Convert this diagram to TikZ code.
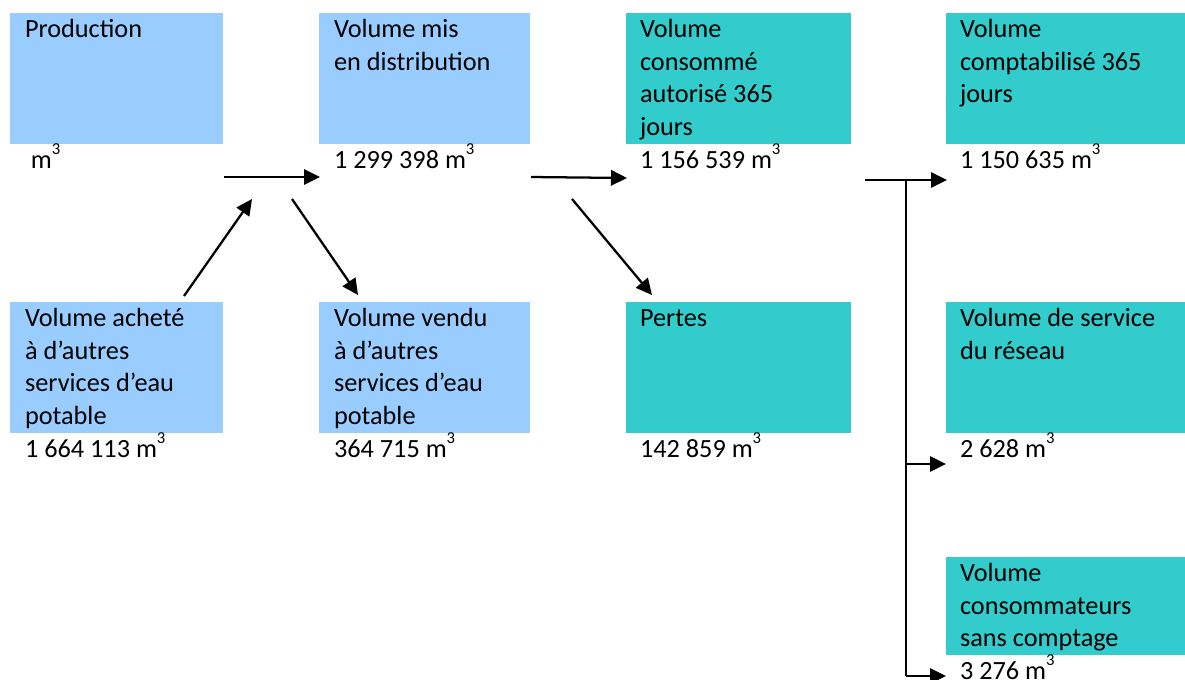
\documentclass[tikz,border=0pt]{standalone}
\usepackage{fontspec}
\setmainfont{Carlito}
\usetikzlibrary{arrows.meta,calc}
\definecolor{lblue}{HTML}{99CCFF}
\definecolor{tealbox}{HTML}{33CCCC}
\newcommand{\cube}{\raisebox{0.55em}{\fontsize{12.5pt}{14pt}\selectfont 3}}
\begin{document}
\begin{tikzpicture}[x=0.75pt,y=-0.75pt,
  font=\fontsize{19.7pt}{24.4pt}\selectfont,
  boxnode/.style={draw=none,inner sep=0pt,outer sep=0pt,anchor=north west},
  blue/.style={boxnode,fill=lblue},
  tealb/.style={boxnode,fill=tealbox},
  boxtext/.style={inner sep=0pt,outer sep=0pt,anchor=north west,align=left},
  value/.style={inner sep=0pt,outer sep=0pt,anchor=base west},
  flow/.style={line width=1.7pt,-{Triangle[length=12pt,width=11.5pt]}},
  trunk/.style={line width=1.3pt}]
\useasboundingbox (0,0) rectangle (1185,679);

% boxes
\node[blue, minimum width=159.75pt, minimum height=98.25pt] (prod) at (10,13) {};
\node[blue, minimum width=158.25pt, minimum height=98.25pt] (dist) at (319,13) {};
\node[tealb, minimum width=168.75pt, minimum height=98.25pt] (conso) at (626,13) {};
\node[tealb, minimum width=180pt, minimum height=98.25pt] (compta) at (946,13) {};
\node[blue, minimum width=159.75pt, minimum height=98.25pt] (achete) at (10,302) {};
\node[blue, minimum width=158.25pt, minimum height=98.25pt] (vendu) at (319,302) {};
\node[tealb, minimum width=168.75pt, minimum height=98.25pt] (pertes) at (626,302) {};
\node[tealb, minimum width=180pt, minimum height=98.25pt] (service) at (946,302) {};
\node[tealb, minimum width=180pt, minimum height=73.5pt] (sanscpt) at (946,557) {};

% texts in boxes
\node[boxtext] (tprod) at ($(prod.north west)+(15,2)$) {\strut Production};
\node[boxtext] (tdist) at ($(dist.north west)+(15,2)$) {\strut Volume mis\\en distribution};
\node[boxtext] (tconso) at ($(conso.north west)+(14,2)$) {\strut Volume\\consommé\\autorisé 365\\jours};
\node[boxtext] (tcompta) at ($(compta.north west)+(14,2)$) {\strut Volume\\comptabilisé 365\\jours};
\node[boxtext] (tachete) at ($(achete.north west)+(15,2)$) {\strut Volume acheté\\à d’autres\\services d’eau\\potable};
\node[boxtext] (tvendu) at ($(vendu.north west)+(15,2)$) {\strut Volume vendu\\à d’autres\\services d’eau\\potable};
\node[boxtext] (tpertes) at ($(pertes.north west)+(14,2)$) {\strut Pertes};
\node[boxtext] (tservice) at ($(service.north west)+(14,2)$) {\strut Volume de service\\du réseau};
\node[boxtext] (tsanscpt) at ($(sanscpt.north west)+(14,2)$) {\strut Volume\\consommateurs\\sans comptage};

% values
\node[value] (vprod) at ($(prod.south west)+(15,24.5)$) {\ m\cube};
\node[value] (vdist) at ($(dist.south west)+(15,24.5)$) {1 299 398 m\cube};
\node[value] (vconso) at ($(conso.south west)+(14,24.5)$) {1 156 539 m\cube};
\node[value] (vcompta) at ($(compta.south west)+(14,24.5)$) {1 150 635 m\cube};
\node[value] (vachete) at ($(achete.south west)+(15,24.5)$) {1 664 113 m\cube};
\node[value] (vvendu) at ($(vendu.south west)+(15,24.5)$) {364 715 m\cube};
\node[value] (vpertes) at ($(pertes.south west)+(14,24.5)$) {142 859 m\cube};
\node[value] (vservice) at ($(service.south west)+(14,24.5)$) {2 628 m\cube};
\node[value] (vsanscpt) at ($(sanscpt.south west)+(14,24.5)$) {3 276 m\cube};

% connector end points
\coordinate (a1s) at (224,177);
\coordinate (a1e) at (320,177);
\coordinate (a2s) at (184,296);
\coordinate (a2e) at (252,199);
\coordinate (a3s) at (292,199);
\coordinate (a3e) at (358,295);
\coordinate (a4s) at (531,177);
\coordinate (a4e) at (627,178);
\coordinate (a5s) at (572,199);
\coordinate (a5e) at (652,295);
\coordinate (a6s) at (865,180);
\coordinate (a6e) at (947,180);
\coordinate (jtop) at (906,180);
\coordinate (jmid) at (906,464);
\coordinate (jbot) at (906,676);
\coordinate (a7e) at (946,464);
\coordinate (a8e) at (946,676);

% connectors
\draw[flow] (a1s) -- (a1e);
\draw[flow] (a2s) -- (a2e);
\draw[flow] (a3s) -- (a3e);
\draw[flow] (a4s) -- (a4e);
\draw[flow] (a5s) -- (a5e);
\draw[flow] (a6s) -- (a6e);
\draw[trunk] (jtop) -- (jbot);
\draw[flow] (jmid) -- (a7e);
\draw[flow] (jbot) -- (a8e);
\end{tikzpicture}
\end{document}
